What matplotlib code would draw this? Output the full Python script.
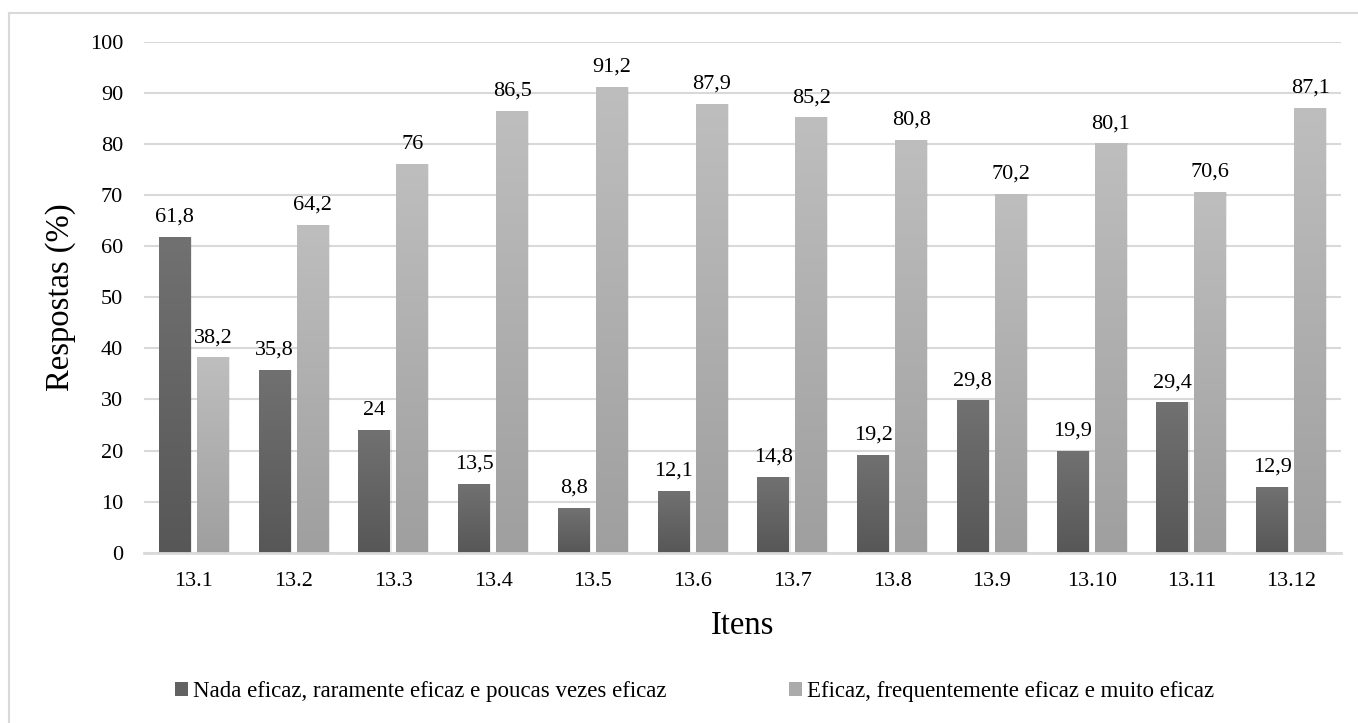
import matplotlib
matplotlib.use("Agg")
import matplotlib.pyplot as plt
import numpy as np
from matplotlib.patches import Rectangle
from matplotlib.lines import Line2D
from matplotlib.colors import LinearSegmentedColormap

categories = ["13.1", "13.2", "13.3", "13.4", "13.5", "13.6", "13.7", "13.8", "13.9", "13.10", "13.11", "13.12"]
nada = [61.8, 35.8, 24, 13.5, 8.8, 12.1, 14.8, 19.2, 29.8, 19.9, 29.4, 12.9]
eficaz = [38.2, 64.2, 76, 86.5, 91.2, 87.9, 85.2, 80.8, 70.2, 80.1, 70.6, 87.1]
series_names = ["Nada eficaz, raramente eficaz e poucas vezes eficaz",
                "Eficaz, frequentemente eficaz e muito eficaz"]
yticks = [0, 10, 20, 30, 40, 50, 60, 70, 80, 90, 100]

plt.rcParams['font.family'] = ['Liberation Serif', 'DejaVu Serif']

W, H = 1358, 723
fig = plt.figure(figsize=(W / 100, H / 100), dpi=100)
ax = fig.add_axes([144 / W, 1 - 552.7 / H, (1341 - 144) / W, (552.7 - 41.7) / H])

x = np.arange(len(categories))
bw = 0.32
off = 0.19

dark_cmap = LinearSegmentedColormap.from_list("d", ["#575757", "#717171"])
light_cmap = LinearSegmentedColormap.from_list("l", ["#9f9f9f", "#bebebe"])

grad = np.linspace(0, 1, 256).reshape(-1, 1)

def gradient_bars(xs, vals, cmap):
    bars = ax.bar(xs, vals, width=bw, color='none', edgecolor='none', zorder=3)
    for b in bars:
        x0, y0 = b.get_x(), b.get_y()
        w, h = b.get_width(), b.get_height()
        # soft shadow
        ax.add_patch(Rectangle((x0 + 0.012, y0), w, h, facecolor='#000000', alpha=0.08,
                               edgecolor='none', zorder=2.5))
        im = ax.imshow(grad, extent=[x0, x0 + w, y0, y0 + h], origin='lower', cmap=cmap,
                       aspect='auto', zorder=3, interpolation='bicubic')
        im.set_clip_path(b)
    return bars

b1 = gradient_bars(x - off, nada, dark_cmap)
b2 = gradient_bars(x + off, eficaz, light_cmap)

def fmt(v):
    return ("%g" % v).replace(".", ",")

FS = 16
for bars, vals in ((b1, nada), (b2, eficaz)):
    for b, v in zip(bars, vals):
        ax.annotate(fmt(v), (b.get_x() + b.get_width() / 2, v), xytext=(0, 11),
                    textcoords='offset points', ha='center', va='baseline',
                    fontsize=FS, color='#000000', zorder=5)

ax.set_xlim(-0.5, len(categories) - 0.5)
ax.set_ylim(0, 100)
ax.set_yticks(yticks)
ax.set_xticks(x)
ax.set_xticklabels(categories)
ax.tick_params(axis='both', length=0, labelsize=FS, colors='#000000')
ax.tick_params(axis='y', pad=15)
ax.tick_params(axis='x', pad=14)
ax.grid(axis='y', color='#d9d9d9', linewidth=1.5, zorder=0)
ax.set_axisbelow(True)
for s in ['top', 'right', 'left']:
    ax.spines[s].set_visible(False)
ax.spines['bottom'].set_color('#d9d9d9')
ax.spines['bottom'].set_linewidth(2)
ax.spines['bottom'].set_zorder(4)

ax.set_ylabel("Respostas (%)", fontsize=23.5, labelpad=10)
ax.set_xlabel("Itens", fontsize=23.5, labelpad=14)

# legend: two entries placed individually
handle_colors = ['#626262', '#ababab']
legend_x = [175, 789]
for name, col, lx in zip(series_names, handle_colors, legend_x):
    h = Rectangle((0, 0), 1, 1, facecolor=col, edgecolor='none')
    leg = fig.legend([h], [name], loc='center left', bbox_to_anchor=(lx / W, 1 - 692 / H),
                     frameon=False, fontsize=16.5, handlelength=0.55, handleheight=0.55,
                     handletextpad=0.25, borderpad=0, borderaxespad=0)

# outer frame (left and top visible)
fig.add_artist(Line2D([9 / W, 9 / W], [0, 1 - 12.5 / H], transform=fig.transFigure,
                      color='#d9d9d9', linewidth=1.5))
fig.add_artist(Line2D([9 / W, 1], [1 - 12.5 / H, 1 - 12.5 / H], transform=fig.transFigure,
                      color='#d9d9d9', linewidth=1.5))

fig.savefig("out.png", dpi=100)
